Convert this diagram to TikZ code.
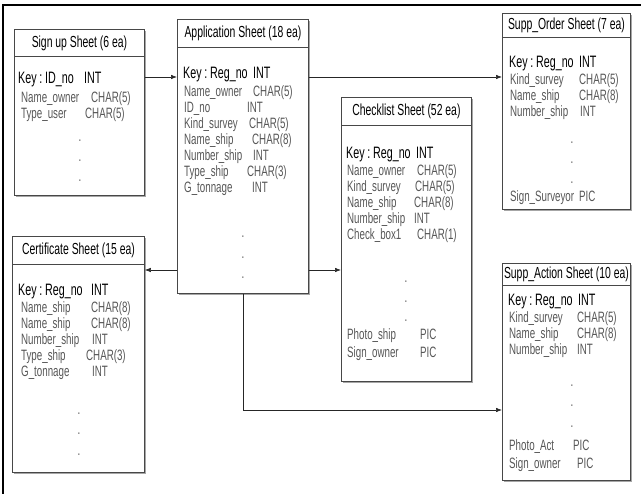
\documentclass[tikz,border=0pt]{standalone}
\usepackage{fontspec}
\setmainfont{Liberation Sans}[FakeStretch=0.65]
\usetikzlibrary{arrows.meta,calc,shadows}
\newcounter{fc}
\newcommand\frow[5]{\stepcounter{fc}%
  \node[fld] (fa\arabic{fc}) at (#1,#3) {#4};
  \node[fld] (fb\arabic{fc}) at (#2,#3) {#5};}
% key row: x, y, text, gap before INT
\newcommand\krow[4]{\stepcounter{fc}%
  \node[keyt] (ka\arabic{fc}) at (#1,#2) {#3};
  \node[keyt] (kb\arabic{fc}) at ([xshift=#4pt]ka\arabic{fc}.base east) {INT};}
\newcommand\threedots[4]{\stepcounter{fc}%
  \node[fld,anchor=base] (da\arabic{fc}) at (#1,#2) {.};
  \node[fld,anchor=base] (db\arabic{fc}) at (#1,#3) {.};
  \node[fld,anchor=base] (dc\arabic{fc}) at (#1,#4) {.};}
\tikzset{
  boxline/.style={draw=black!72, line width=0.9pt, fill=white,
    drop shadow={shadow xshift=1.3pt, shadow yshift=-1.3pt, fill=black!35, opacity=1}},
  hdr/.style={boxline, anchor=north west, inner sep=0pt, font=\fontsize{16}{18}\selectfont},
  bodybox/.style={boxline, anchor=north west, inner sep=0pt},
  keyt/.style={anchor=base west, inner sep=0pt, font=\fontsize{16.5}{18}\selectfont},
  fld/.style={anchor=base west, inner sep=0pt, text=black!66, font=\fontsize{15}{17}\selectfont},
  conn/.style={-{Latex[length=6pt,width=4.5pt]}, line width=0.6pt, draw=black!85},
  frame/.style={line width=2pt, draw=black}
}
\begin{document}
\begin{tikzpicture}[x=1pt,y=-1pt]
\useasboundingbox (0,0) rectangle (641,494);
% outer frame (top and left)
\coordinate (fTL) at (3,5);
\coordinate (fTR) at (641,5);
\coordinate (fBL) at (3,494);
\draw[frame] (fTR) -- (fTL) -- (fBL);

% Sign up sheet
\node[hdr, minimum width=130pt, minimum height=27pt] (signupT) at (14,29) {Sign up Sheet (6 ea)};
\node[bodybox, minimum width=130pt, minimum height=139pt] (signupB) at (14,56) {};
\krow{18}{84}{Key\,:\,ID\_no}{10}
\frow{21}{91}{103}{Name\_owner}{CHAR(5)}
\frow{21}{85}{119}{Type\_user}{CHAR(5)}
\threedots{80}{142}{162}{182}

% Application sheet
\node[hdr, minimum width=131pt, minimum height=28pt] (appT) at (177,19) {Application Sheet (18 ea)};
\node[bodybox, minimum width=131pt, minimum height=246pt] (appB) at (177,47) {};
\krow{183}{79}{Key\,:\,Reg\_no}{5}
\frow{184}{253}{97}{Name\_owner}{CHAR(5)}
\frow{184}{247}{113}{ID\_no}{INT}
\frow{184}{249}{129}{Kind\_survey}{CHAR(5)}
\frow{184}{252}{145}{Name\_ship}{CHAR(8)}
\frow{184}{253}{161}{Number\_ship}{INT}
\frow{184}{247}{177}{Type\_ship}{CHAR(3)}
\frow{184}{252}{193}{G\_tonnage}{INT}
\threedots{243}{238}{259}{279}

% Checklist sheet
\node[hdr, minimum width=130pt, minimum height=28pt] (chkT) at (341,97) {Checklist Sheet (52 ea)};
\node[bodybox, minimum width=130pt, minimum height=256pt] (chkB) at (341,125) {};
\krow{346}{159}{Key\,:\,Reg\_no}{5}
\frow{347}{417}{176}{Name\_owner}{CHAR(5)}
\frow{347}{415}{192}{Kind\_survey}{CHAR(5)}
\frow{347}{414}{208}{Name\_ship}{CHAR(8)}
\frow{347}{414}{224}{Number\_ship}{INT}
\frow{347}{417}{240}{Check\_box1}{CHAR(1)}
\threedots{406}{283}{303}{322}
\frow{347}{420}{340}{Photo\_ship}{PIC}
\frow{347}{420}{358}{Sign\_owner}{PIC}

% Supp_Order sheet
\node[hdr, minimum width=128pt, minimum height=24pt] (ordT) at (502,13) {Supp\_Order Sheet (7 ea)};
\node[bodybox, minimum width=128pt, minimum height=172pt] (ordB) at (502,37) {};
\krow{509}{68}{Key\,:\,Reg\_no}{5}
\frow{510}{579}{85}{Kind\_survey}{CHAR(5)}
\frow{510}{579}{101}{Name\_ship}{CHAR(8)}
\frow{510}{580}{117}{Number\_ship}{INT}
\threedots{572}{144}{164}{184}
\frow{510}{579}{202}{Sign\_Surveyor}{PIC}

% Certificate sheet
\node[hdr, minimum width=132pt, minimum height=28pt] (certT) at (12,236) {Certificate Sheet (15 ea)};
\node[bodybox, minimum width=132pt, minimum height=208pt] (certB) at (12,264) {};
\krow{18}{296}{Key\,:\,Reg\_no}{8}
\frow{21}{91}{313}{Name\_ship}{CHAR(8)}
\frow{21}{91}{329}{Name\_ship}{CHAR(8)}
\frow{21}{92}{345}{Number\_ship}{INT}
\frow{21}{86}{361}{Type\_ship}{CHAR(3)}
\frow{21}{92}{377}{G\_tonnage}{INT}
\threedots{79}{415}{435}{456}

% Supp_Action sheet
\node[hdr, minimum width=128pt, minimum height=22pt] (actT) at (502,263) {Supp\_Action Sheet (10 ea)};
\node[bodybox, minimum width=128pt, minimum height=195pt] (actB) at (502,285) {};
\krow{508}{306}{Key\,:\,Reg\_no}{5}
\frow{509}{577}{323}{Kind\_survey}{CHAR(5)}
\frow{509}{577}{339}{Name\_ship}{CHAR(8)}
\frow{509}{577}{355}{Number\_ship}{INT}
\threedots{572}{387}{407}{428}
\frow{509}{573}{451}{Photo\_Act}{PIC}
\frow{509}{577}{469}{Sign\_owner}{PIC}

% connectors
\coordinate (lvA) at (0,77);
\coordinate (lvB) at (0,270);
\coordinate (lvC) at (0,410);
\coordinate (colA) at (243,0);
\draw[conn] (signupB.east |- lvA) -- (appB.west |- lvA);
\draw[conn] (appB.east |- lvA) -- (ordB.west |- lvA);
\draw[conn] (appB.east |- lvB) -- (chkB.west |- lvB);
\draw[conn] (appB.west |- lvB) -- (certB.east |- lvB);
\draw[conn] (appB.south -| colA) |- (actB.west |- lvC);
\end{tikzpicture}
\end{document}
